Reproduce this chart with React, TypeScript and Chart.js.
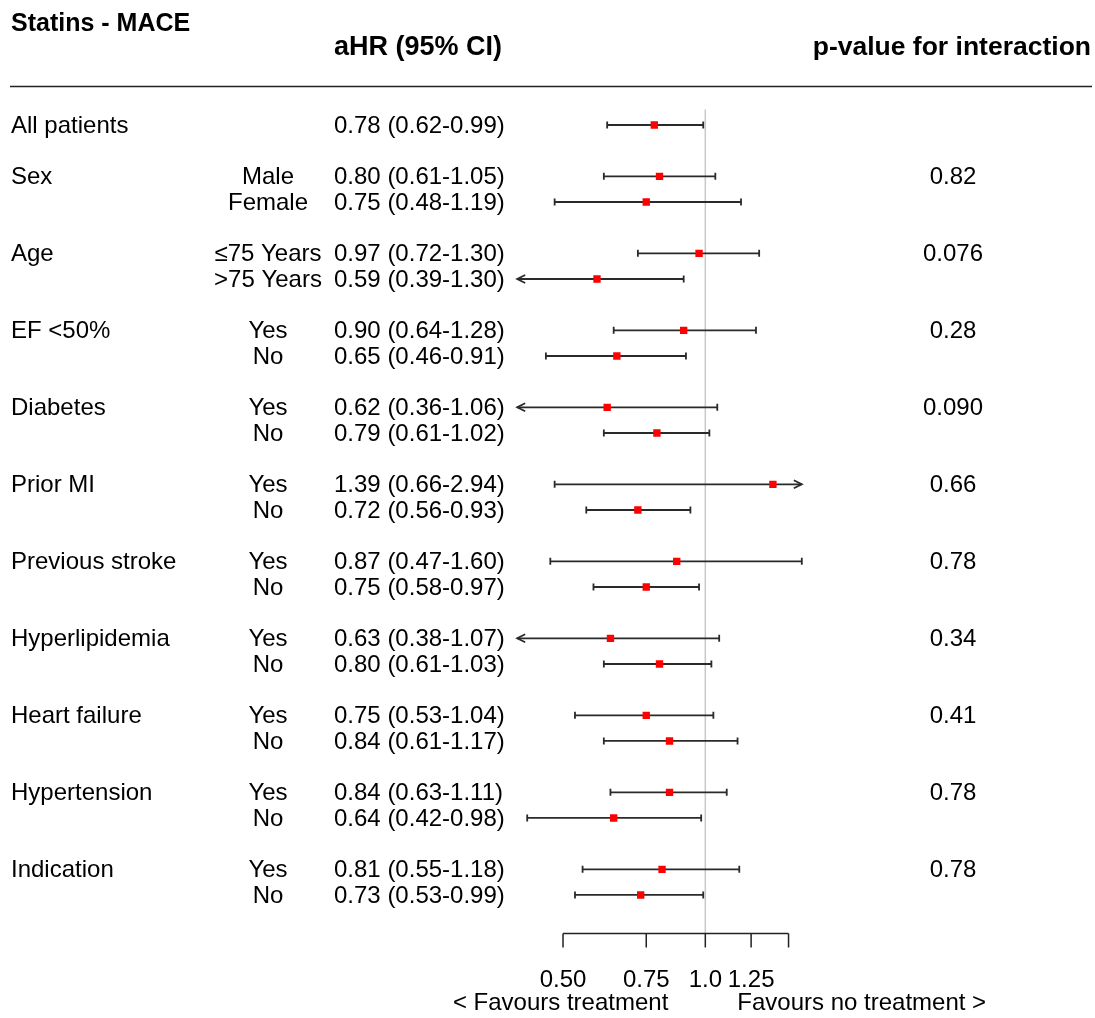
import { useEffect, useRef } from "react";
import { Chart, registerables } from "chart.js";

Chart.register(...registerables);

const W = 1095;
const H = 1018;

const titleText = "Statins - MACE";
const hrHeader = "aHR (95% CI)";
const pHeader = "p-value for interaction";

const rowGroup = [
  "All patients",
  "Sex", "",
  "Age", "",
  "EF <50%", "",
  "Diabetes", "",
  "Prior MI", "",
  "Previous stroke", "",
  "Hyperlipidemia", "",
  "Heart failure", "",
  "Hypertension", "",
  "Indication", "",
];

const rowSub = [
  "",
  "Male", "Female",
  "≤75 Years", ">75 Years",
  "Yes", "No",
  "Yes", "No",
  "Yes", "No",
  "Yes", "No",
  "Yes", "No",
  "Yes", "No",
  "Yes", "No",
  "Yes", "No",
];

const hrText = [
  "0.78 (0.62-0.99)",
  "0.80 (0.61-1.05)", "0.75 (0.48-1.19)",
  "0.97 (0.72-1.30)", "0.59 (0.39-1.30)",
  "0.90 (0.64-1.28)", "0.65 (0.46-0.91)",
  "0.62 (0.36-1.06)", "0.79 (0.61-1.02)",
  "1.39 (0.66-2.94)", "0.72 (0.56-0.93)",
  "0.87 (0.47-1.60)", "0.75 (0.58-0.97)",
  "0.63 (0.38-1.07)", "0.80 (0.61-1.03)",
  "0.75 (0.53-1.04)", "0.84 (0.61-1.17)",
  "0.84 (0.63-1.11)", "0.64 (0.42-0.98)",
  "0.81 (0.55-1.18)", "0.73 (0.53-0.99)",
];

const pText = [
  "",
  "0.82", "",
  "0.076", "",
  "0.28", "",
  "0.090", "",
  "0.66", "",
  "0.78", "",
  "0.34", "",
  "0.41", "",
  "0.78", "",
  "0.78", "",
];

// plotted values (as drawn in the figure)
const hr = [0.78, 0.80, 0.75, 0.97, 0.59, 0.90, 0.65, 0.62, 0.79, 1.39, 0.72, 0.87, 0.75, 0.63, 0.80, 0.75, 0.84, 0.84, 0.64, 0.81, 0.73];
const lo = [0.62, 0.61, 0.48, 0.72, 0.39, 0.64, 0.46, 0.36, 0.61, 0.48, 0.56, 0.47, 0.58, 0.38, 0.61, 0.53, 0.61, 0.63, 0.42, 0.55, 0.53];
const hi = [0.99, 1.05, 1.19, 1.30, 0.90, 1.28, 0.91, 1.06, 1.02, 2.94, 0.93, 1.60, 0.97, 1.07, 1.03, 1.04, 1.17, 1.11, 0.98, 1.18, 0.99];

const axisTicks = [0.5, 0.75, 1.0, 1.25, 1.5];
const axisTickLabels = ["0.50", "0.75", "1.0", "1.25", ""];
const favLeft = "< Favours treatment";
const favRight = "Favours no treatment >";

const X_MIN = 0.4;
const X_MAX = 1.6;

const rowPos = hr.map((_, i) => (i === 0 ? 0 : i + Math.floor((i - 1) / 2) + 1));

const FONT = '"Liberation Sans", Arial, Helvetica, sans-serif';

const forestPlugin = {
  id: "forest",
  beforeDatasetsDraw(chart: any) {
    const { ctx, scales } = chart;
    const x = scales.x;
    const y = scales.y;
    ctx.save();
    // reference line at 1
    const x1 = x.getPixelForValue(1);
    ctx.strokeStyle = "#c8c8c8";
    ctx.lineWidth = 1.5;
    ctx.beginPath();
    ctx.moveTo(x1, y.getPixelForValue(-0.6));
    ctx.lineTo(x1, y.getPixelForValue(31.5));
    ctx.stroke();

    // confidence intervals
    ctx.strokeStyle = "#2a2a2a";
    for (let i = 0; i < hr.length; i++) {
      const py = y.getPixelForValue(rowPos[i]);
      const lArrow = lo[i] < X_MIN;
      const rArrow = hi[i] > X_MAX;
      const pl = x.getPixelForValue(lArrow ? X_MIN : lo[i]);
      const pr = x.getPixelForValue(rArrow ? X_MAX : hi[i]);
      ctx.lineWidth = 1.8;
      ctx.beginPath();
      ctx.moveTo(pl, py);
      ctx.lineTo(pr, py);
      ctx.stroke();
      ctx.lineWidth = 1.8;
      ctx.beginPath();
      if (lArrow) {
        ctx.moveTo(pl + 8, py - 4);
        ctx.lineTo(pl, py);
        ctx.lineTo(pl + 8, py + 4);
      } else {
        ctx.moveTo(pl, py - 3.5);
        ctx.lineTo(pl, py + 3.5);
      }
      if (rArrow) {
        ctx.moveTo(pr - 8, py - 4);
        ctx.lineTo(pr, py);
        ctx.lineTo(pr - 8, py + 4);
      } else {
        ctx.moveTo(pr, py - 3.5);
        ctx.lineTo(pr, py + 3.5);
      }
      ctx.stroke();
    }

    // bottom axis
    const ay = y.getPixelForValue(31.5);
    const ax0 = x.getPixelForValue(axisTicks[0]);
    const ax1 = x.getPixelForValue(axisTicks[axisTicks.length - 1]);
    ctx.strokeStyle = "#222222";
    ctx.lineWidth = 1.5;
    ctx.beginPath();
    ctx.moveTo(ax0, ay);
    ctx.lineTo(ax1, ay);
    for (const t of axisTicks) {
      const tx = x.getPixelForValue(t);
      ctx.moveTo(tx, ay);
      ctx.lineTo(tx, ay + 14);
    }
    ctx.stroke();
    ctx.restore();
  },
  afterDraw(chart: any) {
    const { ctx, scales } = chart;
    const x = scales.x;
    const y = scales.y;
    ctx.save();
    ctx.fillStyle = "#000000";
    ctx.textBaseline = "middle";

    // headers
    ctx.font = `bold 25px ${FONT}`;
    ctx.textAlign = "left";
    ctx.fillText(titleText, 11, y.getPixelForValue(-4) + 2);
    ctx.font = `bold 27px ${FONT}`;
    ctx.fillText(hrHeader, 334, y.getPixelForValue(-3));
    ctx.font = `bold 26.5px ${FONT}`;
    ctx.textAlign = "right";
    ctx.fillText(pHeader, 1091, y.getPixelForValue(-3));

    // separator
    ctx.strokeStyle = "#222222";
    ctx.lineWidth = 1.5;
    ctx.beginPath();
    const sy = y.getPixelForValue(-1.5);
    ctx.moveTo(10, sy);
    ctx.lineTo(1092, sy);
    ctx.stroke();

    // rows
    ctx.font = `24px ${FONT}`;
    for (let i = 0; i < hr.length; i++) {
      const py = y.getPixelForValue(rowPos[i]) + 1;
      ctx.textAlign = "left";
      if (rowGroup[i]) ctx.fillText(rowGroup[i], 11, py);
      ctx.fillText(hrText[i], 334, py);
      ctx.textAlign = "center";
      if (rowSub[i]) ctx.fillText(rowSub[i], 268, py);
      if (pText[i]) ctx.fillText(pText[i], 953, py);
    }

    // axis labels
    const ay = y.getPixelForValue(31.5);
    ctx.textAlign = "center";
    axisTicks.forEach((t, k) => {
      if (axisTickLabels[k]) ctx.fillText(axisTickLabels[k], x.getPixelForValue(t), ay + 47);
    });
    const x1 = x.getPixelForValue(1);
    ctx.textAlign = "right";
    ctx.fillText(favLeft, x1 - 37, ay + 70);
    ctx.textAlign = "left";
    ctx.fillText(favRight, x1 + 32, ay + 70);
    ctx.restore();
  },
};

export default function App() {
  const canvasRef = useRef<HTMLCanvasElement | null>(null);

  useEffect(() => {
    const canvas = canvasRef.current;
    if (!canvas) return;
    const chart = new Chart(canvas, {
      type: "scatter",
      data: {
        datasets: [
          {
            data: hr.map((v, i) => ({ x: v, y: rowPos[i] })),
            pointStyle: "rect",
            pointRadius: 5.2,
            pointHoverRadius: 5.2,
            backgroundColor: "#ff0000",
            borderWidth: 0,
            showLine: false,
          },
        ],
      },
      options: {
        animation: false,
        responsive: false,
        maintainAspectRatio: false,
        devicePixelRatio: 1,
        events: [],
        layout: {
          padding: { left: 517.2, right: 293.2, top: 22.33, bottom: 71.7 },
        },
        scales: {
          x: { type: "logarithmic", min: X_MIN, max: X_MAX, display: false },
          y: { type: "linear", min: -4, max: 32, reverse: true, display: false },
        },
        plugins: {
          legend: { display: false },
          tooltip: { enabled: false },
        },
      },
      plugins: [forestPlugin],
    });
    return () => chart.destroy();
  }, []);

  return (
    <div style={{ position: "fixed", left: 0, top: 0, width: W, height: H, background: "#ffffff" }}>
      <canvas ref={canvasRef} width={W} height={H} style={{ width: W, height: H, display: "block" }} />
    </div>
  );
}
